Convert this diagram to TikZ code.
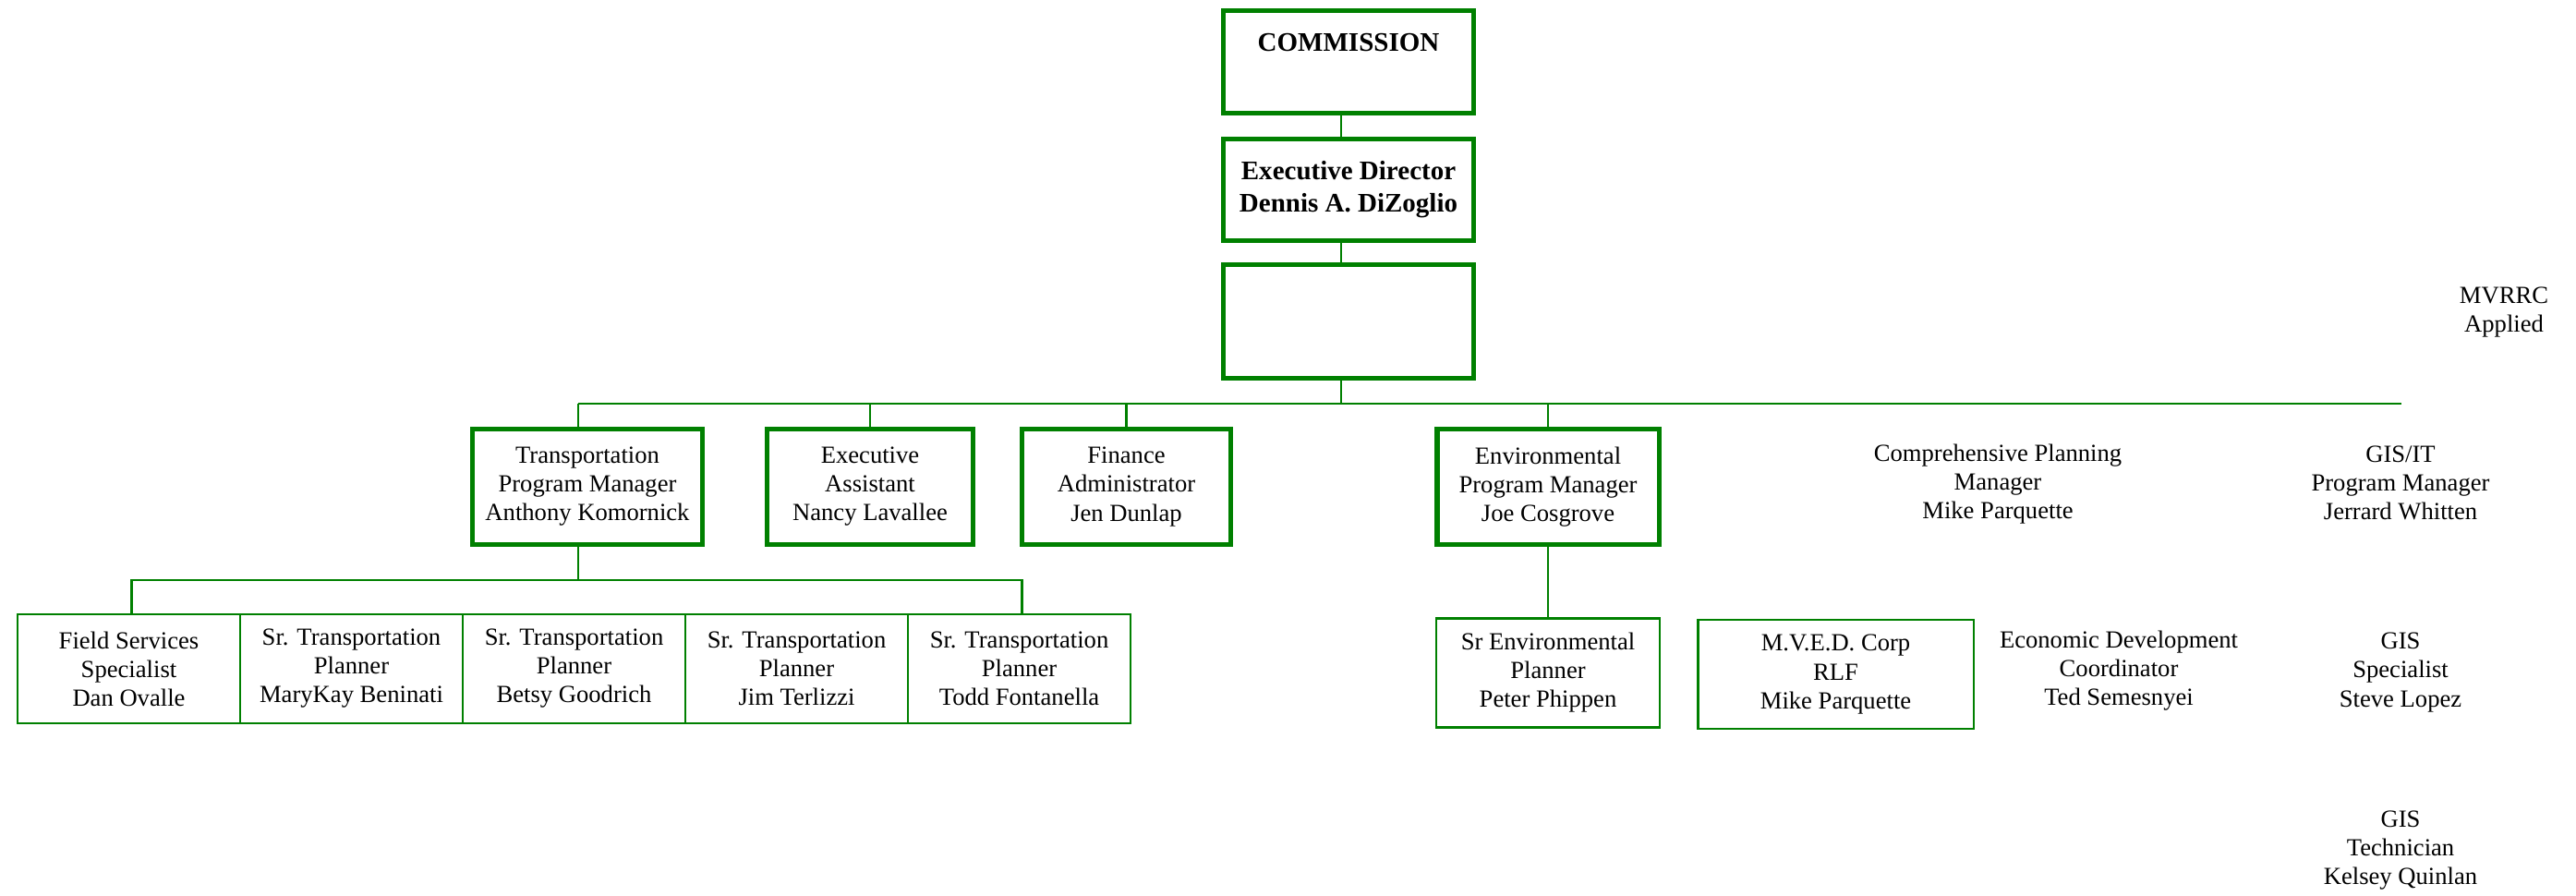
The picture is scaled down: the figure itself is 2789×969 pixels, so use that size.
\documentclass[tikz,border=0pt]{standalone}
\usepackage{fontspec}
\setmainfont{Liberation Serif}
\usetikzlibrary{positioning}
\definecolor{orggreen}{RGB}{0,128,0}
\tikzset{link/.style={draw=orggreen,line width=0.6pt}}
\tikzset{topbox/.style={draw=orggreen,line width=1.45pt,align=center,minimum width=2.71cm,minimum height=#1,font={\fontsize{8.25pt}{9.96pt}\selectfont\bfseries}}}
\tikzset{topbox/.default={1.1cm}}
\tikzset{mgrbox/.style={draw=orggreen,line width=1.45pt,align=center,minimum width=#1,minimum height=1.25cm}}
\tikzset{staffbox/.style={draw=orggreen,line width=0.75pt,align=center,minimum width=#1,minimum height=1.18cm}}
\tikzset{staffbox/.default={2.41cm}}
\tikzset{plain/.style={align=center}}
\tikzset{font={\fontsize{7.57pt}{8.82pt}\selectfont}}

\begin{document}
\begin{tikzpicture}[x=0.01cm,y=-0.01cm]
        \useasboundingbox (0,0) rectangle (2789,969);
        \node[topbox=1.11cm] (comm) at (1460,67) {COMMISSION\\\phantom{Dennis A. DiZoglio}};
        \node[topbox=1.10cm] (exec) at (1460,205.5) {Executive Director\\Dennis A. DiZoglio};
        \node[topbox=1.23cm] (blank) at (1460,348) {};
        \path[link] ([xshift=-0.08cm]comm.south) -- ([xshift=-0.08cm]exec.north);
        \path[link] ([xshift=-0.08cm]exec.south) -- ([xshift=-0.08cm]blank.north);
        \coordinate (bus) at (2600,437);
        \path[link] ([xshift=-0.08cm]blank.south) -- ([xshift=-0.08cm]blank.south |- bus);
        \foreach \n/\x/\w/\a/\b/\c in {tpm/636/2.49cm/Transportation/Program Manager/Anthony Komornick, ea/942/2.23cm/Executive/Assistant/Nancy Lavallee, fin/1219.5/2.26cm/Finance/Administrator/Jen Dunlap, epm/1676/2.40cm/Environmental/Program Manager/Joe Cosgrove}{
            \node[mgrbox=\w] (\n) at (\x,527) {\a\\\b\\\c};
        }
        \foreach \n/\d in {tpm/-0.1cm, ea/0cm, fin/0cm, epm/0cm}
            \path[link] ([xshift=\d]\n.north) -- ([xshift=\d]\n.north |- bus);
        \path[link] ([xshift=-0.1cm]tpm.north |- bus) -- (bus);
        \node[plain] (mvrrc) at (2711,338) {MVRRC\\Applied};
        \node[plain] (cpm) at (2163,524) {Comprehensive Planning\\Manager\\Mike Parquette};
        \node[plain] (gpm) at (2599,523) {GIS/IT\\Program Manager\\Jerrard Whitten};
        % transportation staff
        \coordinate (tbus) at (626,628);
        \path[link] (tpm.south -| tbus) -- (tbus);
        \foreach \i/\a/\b/\c in {0/Field Services/Specialist/Dan Ovalle, 1/Sr. Transportation/Planner/MaryKay Beninati, 2/Sr. Transportation/Planner/Betsy Goodrich, 3/Sr. Transportation/Planner/Jim Terlizzi, 4/Sr. Transportation/Planner/Todd Fontanella}{
            \node[staffbox] (s\i) at (139.5+241*\i,724) {\a\\\b\\\c};
        }
        \path[link] ([xshift=0.03cm]s0.north) -- ([xshift=0.03cm]s0.north |- tbus) -- ([xshift=0.03cm]s4.north |- tbus) -- ([xshift=0.03cm]s4.north);
        % environmental, planning and GIS staff
        \node[staffbox=2.42cm] (sep) at (1676,728.5) {Sr Environmental\\Planner\\Peter Phippen};
        \path[link] (epm) -- (sep);
        \node[staffbox=2.985cm] (mved) at (1987.5,730) {M.V.E.D. Corp\\RLF\\Mike Parquette};
        \node[plain] (edc) at (2294,726) {Economic Development\\Coordinator\\Ted Semesnyei};
        \node[plain] (gss) at (2599,728) {GIS\\Specialist\\Steve Lopez};
        \node[plain] (gst) at (2599,921) {GIS\\Technician\\Kelsey Quinlan};
    \end{tikzpicture}
\end{document}
